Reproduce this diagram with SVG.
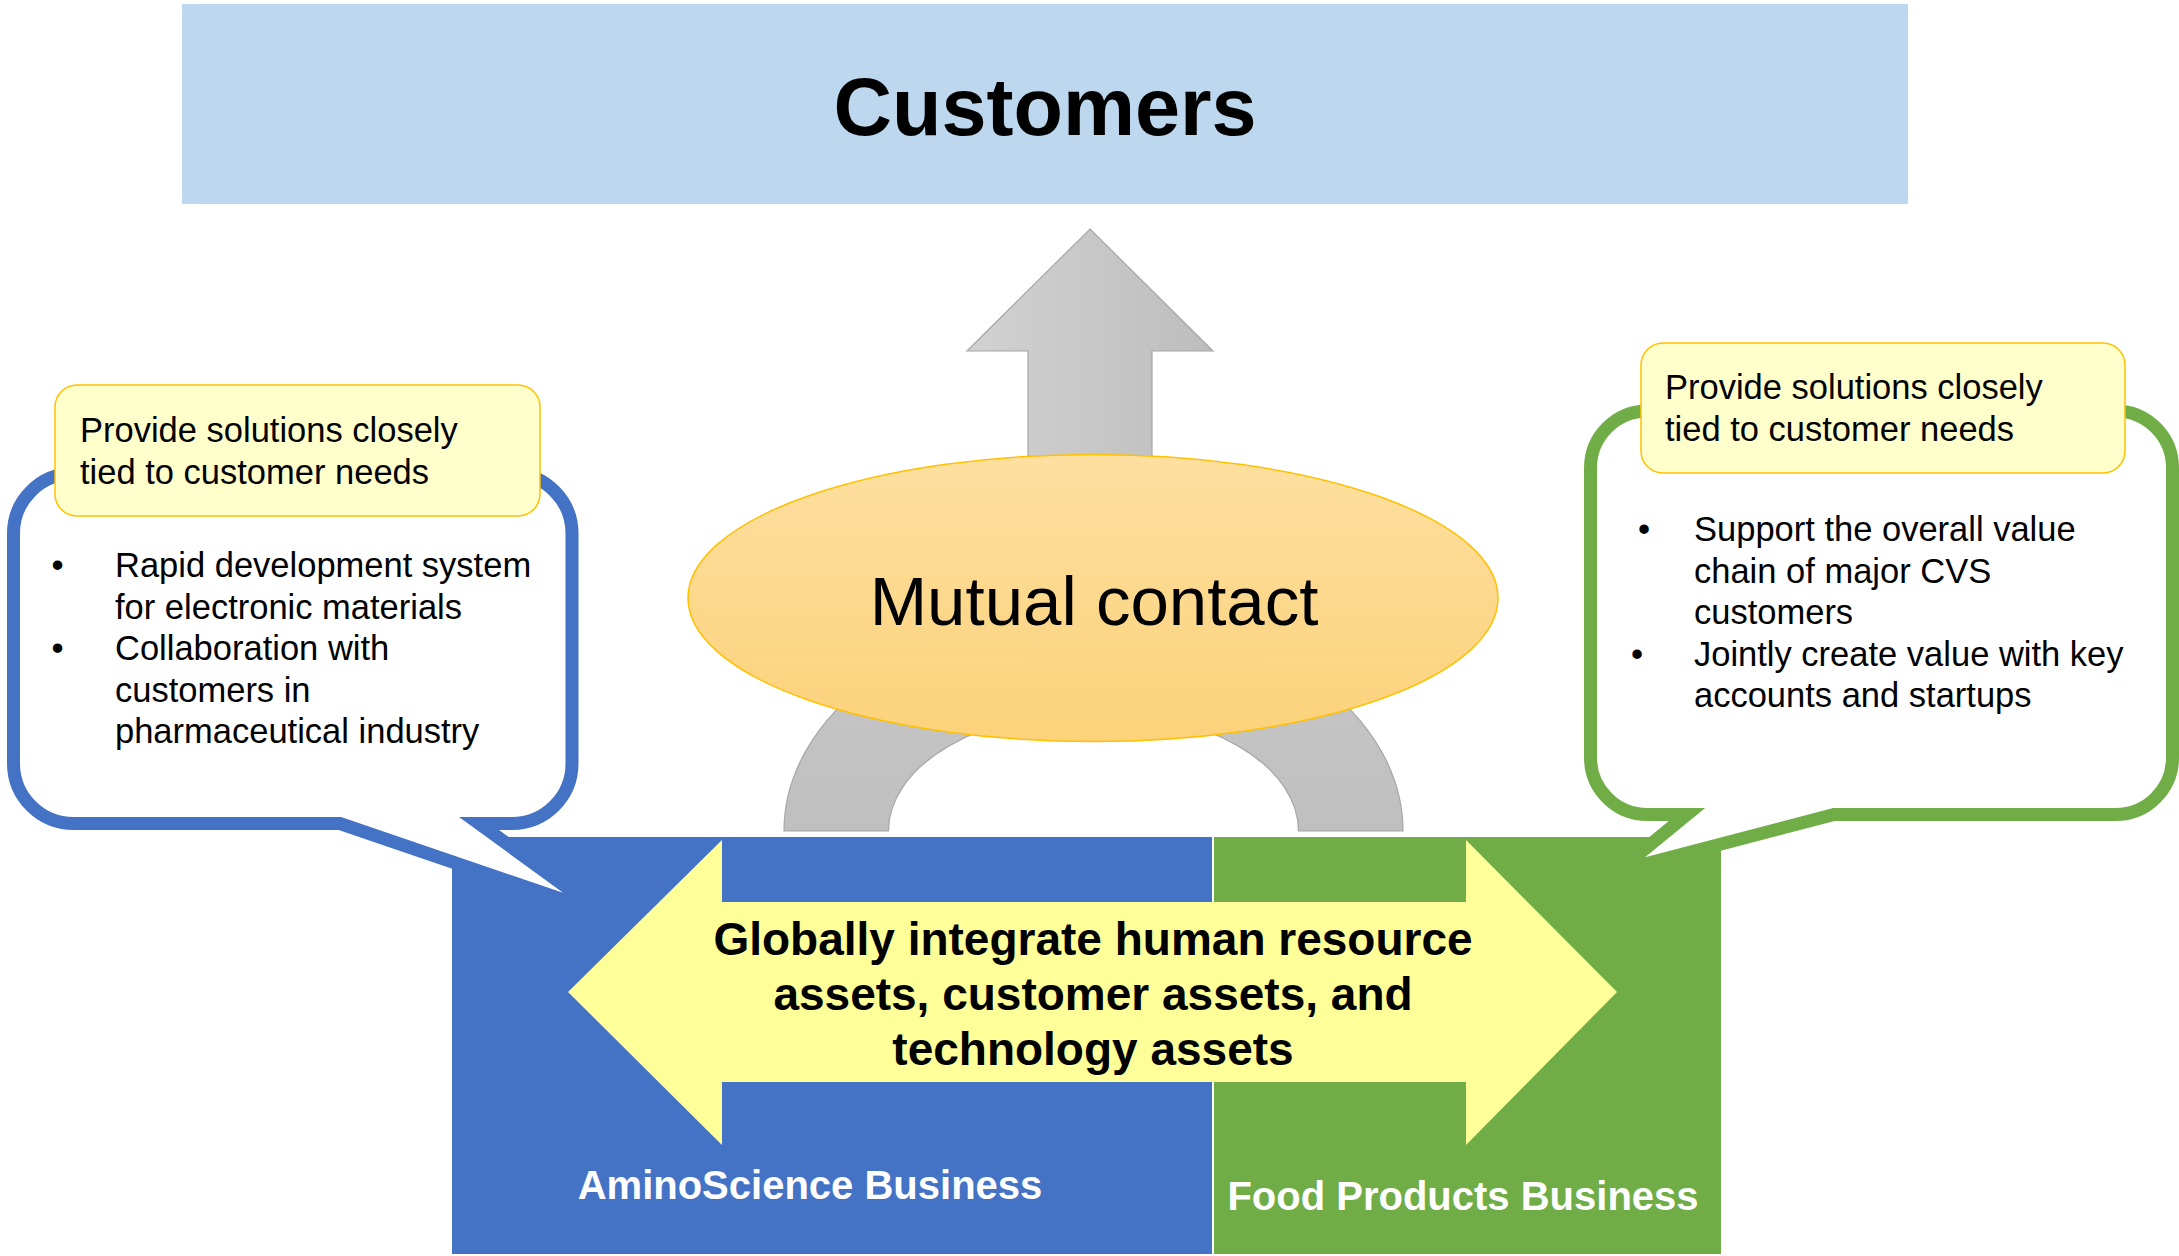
<svg xmlns="http://www.w3.org/2000/svg" width="2179" height="1256" viewBox="0 0 2179 1256">
  <defs>
    <linearGradient id="gradUp" x1="0" y1="0" x2="1" y2="0">
      <stop offset="0" stop-color="#D2D2D2"/>
      <stop offset="1" stop-color="#BDBDBD"/>
    </linearGradient>
    <linearGradient id="gradArch" x1="0" y1="0" x2="0" y2="1">
      <stop offset="0" stop-color="#C8C8C8"/>
      <stop offset="1" stop-color="#BFBFBF"/>
    </linearGradient>
    <linearGradient id="gradEllipse" x1="0" y1="0" x2="0" y2="1">
      <stop offset="0" stop-color="#FDDF9F"/>
      <stop offset="1" stop-color="#FCD27B"/>
    </linearGradient>
  </defs>
  <style>
    text { font-family: "Liberation Sans", Arial, sans-serif; }
    .gray { stroke: #A6A6A6; stroke-width: 1.2; }
    .note { fill: #FFFFCC; stroke: #FFC000; stroke-width: 1.5; }
    .body { font-size: 34.5px; fill: #000; }
    .biz { font-size: 40px; font-weight: bold; fill: #FFFFFF; text-anchor: middle; }
    .bubble { fill: #FFFFFF; stroke-width: 13; stroke-linejoin: miter; }
  </style>
  <rect width="2179" height="1256" fill="#FFFFFF"/>

  <!-- top target box -->
  <g id="customers">
    <rect x="182" y="4" width="1726" height="200" fill="#BDD7EE"/>
    <text x="1045" y="135" font-size="81" font-weight="bold" text-anchor="middle">Customers</text>
  </g>

  <!-- gray block arrows feeding upward -->
  <g id="connectors">
    <path class="gray" fill="url(#gradUp)" d="M1090 229 L1213 351 L1152 351 L1152 520 L1028 520 L1028 351 L967 351 Z"/>
    <path class="gray" fill="url(#gradArch)" d="M784 831 A309.5 217 0 0 1 1403 831 L1298.5 831 A205 120 0 0 0 888.5 831 Z"/>
  </g>

  <g id="mutual-contact">
    <ellipse cx="1093" cy="598" rx="405" ry="143.5" fill="url(#gradEllipse)" stroke="#FFC000" stroke-width="1.5"/>
    <text x="1094" y="625" font-size="69" text-anchor="middle">Mutual contact</text>
  </g>

  <!-- business segments -->
  <g id="aminoscience">
    <rect x="452" y="837" width="760" height="417" fill="#4472C4"/>
  </g>
  <g id="food-products">
    <rect x="1214" y="837" width="507" height="417" fill="#70AD47"/>
  </g>

  <!-- left callout -->
  <g id="callout-aminoscience">
    <path class="bubble" stroke="#4472C4" d="M73.5 473.5 H512 A60 60 0 0 1 572 533.5 V763.5 A60 60 0 0 1 512 823.5 H479 L602 913 L340 823.5 H73.5 A60 60 0 0 1 13.5 763.5 V533.5 A60 60 0 0 1 73.5 473.5 Z"/>
    <rect class="note" x="55" y="385" width="485" height="131" rx="22"/>
    <text class="body" x="80" y="442">Provide solutions closely</text>
    <text class="body" x="80" y="484">tied to customer needs</text>
    <text class="body" x="57.5" y="577" text-anchor="middle">•</text>
    <text class="body" x="57.5" y="660" text-anchor="middle">•</text>
    <text class="body" x="115" y="577">Rapid development system</text>
    <text class="body" x="115" y="618.5">for electronic materials</text>
    <text class="body" x="115" y="660">Collaboration with</text>
    <text class="body" x="115" y="701.5">customers in</text>
    <text class="body" x="115" y="743">pharmaceutical industry</text>
  </g>

  <!-- right callout -->
  <g id="callout-food-products">
    <path class="bubble" stroke="#70AD47" d="M1647.5 411 H2115.5 A57 57 0 0 1 2172.5 468 V757.5 A57 57 0 0 1 2115.5 814.5 H1834 L1618 871 L1687 814.5 H1647.5 A57 57 0 0 1 1590.5 757.5 V468 A57 57 0 0 1 1647.5 411 Z"/>
    <rect class="note" x="1641" y="343" width="484" height="130" rx="22"/>
    <text class="body" x="1665" y="399">Provide solutions closely</text>
    <text class="body" x="1665" y="441">tied to customer needs</text>
    <text class="body" x="1644" y="541" text-anchor="middle">•</text>
    <text class="body" x="1637" y="665.5" text-anchor="middle">•</text>
    <text class="body" x="1694" y="541">Support the overall value</text>
    <text class="body" x="1694" y="582.5">chain of major CVS</text>
    <text class="body" x="1694" y="624">customers</text>
    <text class="body" x="1694" y="665.5">Jointly create value with key</text>
    <text class="body" x="1694" y="707">accounts and startups</text>
  </g>

  <!-- shared integration arrow -->
  <g id="integration">
    <path fill="#FFFF99" d="M568 992 L722 840 L722 902 L1466 902 L1466 840 L1617 992 L1466 1145 L1466 1082 L722 1082 L722 1145 Z"/>
    <text x="1093" y="955" font-size="46" font-weight="bold" text-anchor="middle">Globally integrate human resource</text>
    <text x="1093" y="1010" font-size="46" font-weight="bold" text-anchor="middle">assets, customer assets, and</text>
    <text x="1093" y="1065" font-size="46" font-weight="bold" text-anchor="middle">technology assets</text>
  </g>

  <g id="business-labels">
    <text class="biz" x="810" y="1199">AminoScience Business</text>
    <text class="biz" x="1463" y="1210">Food Products Business</text>
  </g>
</svg>
